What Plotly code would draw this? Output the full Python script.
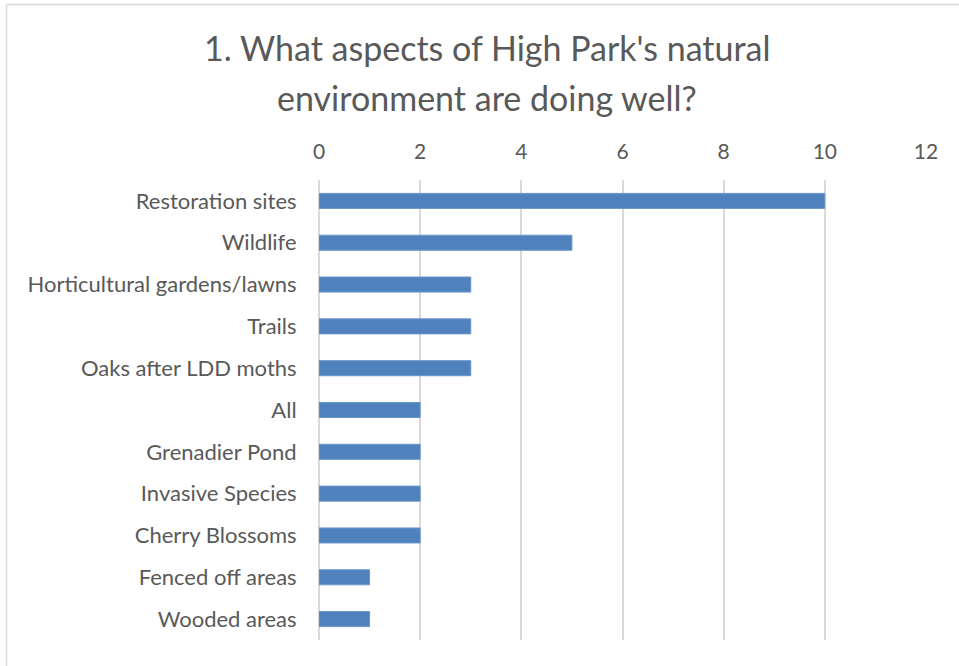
import plotly.graph_objects as go

categories = ["Restoration sites", "Wildlife", "Horticultural gardens/lawns", "Trails",
              "Oaks after LDD moths", "All", "Grenadier Pond", "Invasive Species",
              "Cherry Blossoms", "Fenced off areas", "Wooded areas"]
values = [10, 5, 3, 3, 3, 2, 2, 2, 2, 1, 1]
tick_vals = [0, 2, 4, 6, 8, 10, 12]
title_lines = ["1. What aspects of High Park's natural", "environment are doing well?"]

W, H = 959, 666
ML, MR, MT, MB = 319, 33, 180, 26
FONT = "Lato"
GRAY = "#595959"
GRID = "#d9d9d9"

fig = go.Figure(go.Bar(
    x=values, y=categories, orientation="h",
    marker=dict(color="#4f81bd", line=dict(color="#6a96cc", width=1)),
))

pw = W - ML - MR
ph = H - MT - MB
bx = (6.5 - ML) / pw
by = 1 + (MT - 4.5) / ph
by0 = -MB / ph

def py(pix):
    return 1 + (MT - pix) / ph

TX = (W / 2 + 7 - ML) / pw
annotations = [
    dict(text=title_lines[0], xref="paper", yref="paper",
         x=TX, y=py(47), xanchor="center", yanchor="middle",
         showarrow=False, font=dict(family=FONT, size=34, color=GRAY)),
    dict(text=title_lines[1], xref="paper", yref="paper",
         x=TX, y=py(97), xanchor="center", yanchor="middle",
         showarrow=False, font=dict(family=FONT, size=34, color=GRAY)),
]

fig.update_layout(
    width=W, height=H,
    margin=dict(l=ML, r=MR, t=MT, b=MB),
    paper_bgcolor="white", plot_bgcolor="white",
    bargap=0.64,
    showlegend=False,
    annotations=annotations,
    font=dict(family=FONT, size=21, color=GRAY),
    xaxis=dict(side="top", range=[0, 12], tickvals=tick_vals, showgrid=True,
               gridcolor=GRID, gridwidth=1.5, zeroline=True, zerolinecolor=GRID,
               zerolinewidth=1.5, showline=False, ticks="outside", ticklen=12,
               tickcolor="rgba(0,0,0,0)",
               tickfont=dict(family=FONT, size=21, color=GRAY)),
    yaxis=dict(categoryorder="array", categoryarray=categories[::-1],
               showgrid=False, showline=False, ticks="outside", ticklen=17,
               tickcolor="rgba(0,0,0,0)",
               tickfont=dict(family=FONT, size=22, color=GRAY)),
    shapes=[
        dict(type="line", xref="paper", yref="paper", x0=bx, x1=bx, y0=by0, y1=by,
             line=dict(color=GRID, width=1.5)),
        dict(type="line", xref="paper", yref="paper", x0=bx, x1=1 + MR / pw, y0=by, y1=by,
             line=dict(color=GRID, width=1.5)),
    ],
)

fig.write_html("out.html", config={"displayModeBar": False})
with open("out.html", encoding="utf-8") as f:
    html = f.read()
html = html.replace("<head>", "<head><style>html,body{margin:0;padding:0;overflow:hidden;}</style>", 1)
with open("out.html", "w", encoding="utf-8") as f:
    f.write(html)
